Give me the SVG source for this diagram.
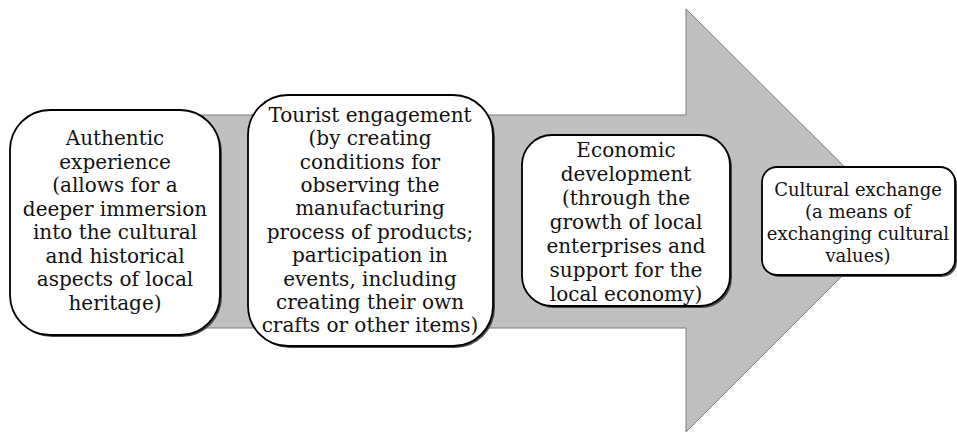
<svg xmlns="http://www.w3.org/2000/svg" width="957" height="435" viewBox="0 0 957 435">
<style>
.bg{fill:#ffffff}
.arrow{fill:#c0c0c0;stroke:#7a7a7a;stroke-width:1}
.shadow{fill:#4a4a4a}
.box{fill:#ffffff;stroke:#000000;stroke-width:1.8}
text{font-family:'DejaVu Serif',serif;font-size:20px;fill:#111111;text-anchor:middle}
.s{font-size:18px}
</style>
<rect class="bg" x="0" y="0" width="957" height="435"/>
<g id="connectors">
<polygon class="arrow" points="60,115 686,115 686,9 898,220 686,432 686,328 60,328"/>
</g>
<g id="node-authentic">
<rect class="shadow" x="12" y="112" width="210" height="225" rx="40"/>
<rect class="box" x="10" y="110" width="210" height="225" rx="40"/>
<text x="115" y="145">Authentic</text>
<text x="115" y="168.5">experience</text>
<text x="115" y="192">(allows for a</text>
<text x="115" y="215.5">deeper immersion</text>
<text x="115" y="239">into the cultural</text>
<text x="115" y="262.5">and historical</text>
<text x="115" y="286">aspects of local</text>
<text x="115" y="309.5">heritage)</text>
</g>
<g id="node-engagement">
<rect class="shadow" x="250" y="97" width="245" height="251" rx="40"/>
<rect class="box" x="248" y="95" width="245" height="251" rx="40"/>
<text x="370" y="121.7">Tourist engagement</text>
<text x="370" y="145.1">(by creating</text>
<text x="370" y="168.5">conditions for</text>
<text x="370" y="191.9">observing the</text>
<text x="370" y="215.3">manufacturing</text>
<text x="370" y="238.7">process of products;</text>
<text x="370" y="262.1">participation in</text>
<text x="370" y="285.5">events, including</text>
<text x="370" y="308.9">creating their own</text>
<text x="370" y="332.3">crafts or other items)</text>
</g>
<g id="node-economic">
<rect class="shadow" x="524" y="137" width="208" height="171" rx="30"/>
<rect class="box" x="522" y="135" width="208" height="171" rx="30"/>
<text x="626" y="156.7">Economic</text>
<text x="626" y="180.7">development</text>
<text x="626" y="204.7">(through the</text>
<text x="626" y="228.7">growth of local</text>
<text x="626" y="252.7">enterprises and</text>
<text x="626" y="276.7">support for the</text>
<text x="626" y="300.7">local economy)</text>
</g>
<g id="node-cultural">
<rect class="shadow" x="764" y="169" width="193" height="108" rx="15"/>
<rect class="box" x="762" y="167" width="193" height="108" rx="15"/>
<text class="s" x="858" y="196">Cultural exchange</text>
<text class="s" x="858" y="218">(a means of</text>
<text class="s" x="858" y="240">exchanging cultural</text>
<text class="s" x="858" y="262">values)</text>
</g>
</svg>
